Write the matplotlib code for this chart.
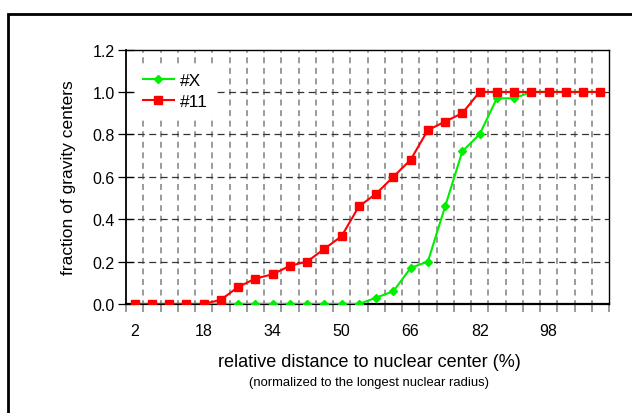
import matplotlib.pyplot as plt
from matplotlib.patches import Rectangle
import numpy as np

plt.rcParams['font.family'] = ['Liberation Sans', 'DejaVu Sans']
plt.rcParams['lines.scale_dashes'] = False

# relative distance (%) - category positions
distance = [2, 6, 10, 14, 18, 22, 26, 30, 34, 38, 42, 46, 50, 54,
            58, 62, 66, 70, 74, 78, 82, 86, 90, 94, 98, 102, 106, 110]
frac_x = [0, 0, 0, 0, 0, 0, 0, 0, 0, 0, 0, 0, 0, 0,
          0.03, 0.06, 0.17, 0.20, 0.46, 0.72, 0.80, 0.97, 0.97, 1.0,
          1.0, 1.0, 1.0, 1.0]
frac_11 = [0, 0, 0, 0, 0, 0.02, 0.08, 0.12, 0.14, 0.18, 0.20, 0.26, 0.32, 0.46,
           0.52, 0.60, 0.68, 0.82, 0.86, 0.90, 1.0, 1.0, 1.0, 1.0,
           1.0, 1.0, 1.0, 1.0]
xtick_labels = [2, 18, 34, 50, 66, 82, 98]

fig = plt.figure(figsize=(6.32, 4.14), dpi=100)
ax = fig.add_axes([126/632, 1 - 305/414, (609 - 126)/632, (305 - 50.5)/414])

ax.plot(distance, frac_x, color='#00ee00', lw=1.5, marker='D', ms=4.2,
        label='#X', zorder=3)
ax.plot(distance, frac_11, color='#ff0000', lw=1.5, marker='s', ms=5.2,
        label='#11', zorder=4)

ax.set_xlim(0, 112)
ax.set_ylim(0, 1.2)

# grid: vertical at category boundaries, horizontal at each 0.2
bounds = np.arange(0, 113, 4)
for b in bounds[1:-1]:
    ax.axvline(b, color='#808080', lw=1.1, ls=(1.5, (4.3, 3.3)), zorder=1)
for yv in [0.2, 0.4, 0.6, 0.8, 1.0]:
    ax.axhline(yv, color='#333333', lw=0.9, ls=(0, (5.0, 3.2)), zorder=1)

ax.set_xticks(bounds)
ax.set_xticklabels([])
ax.tick_params(axis='x', which='major', length=6, direction='out', width=1.1,
               color='#808080')
ax.set_xticks(xtick_labels, minor=True)
ax.set_xticklabels([str(v) for v in xtick_labels], minor=True)
ax.tick_params(axis='x', which='minor', length=0, pad=14, labelsize=11.5)

ax.set_yticks(np.arange(0, 1.21, 0.2))
ax.set_yticklabels(['%.1f' % v for v in np.arange(0, 1.21, 0.2)])
ax.tick_params(axis='y', length=12, direction='inout', width=0.9,
               labelsize=11.5, pad=2)

for s in ax.spines.values():
    s.set_color('black')
    s.set_linewidth(1.0)
ax.spines['bottom'].set_linewidth(1.6)
ax.spines['left'].set_linewidth(1.3)

ax.set_ylabel('fraction of gravity centers', fontsize=12.5, labelpad=12)
fig.text(369/632, 1 - 363/414, 'relative distance to nuclear center (%)',
         ha='center', va='center', fontsize=13)
fig.text(369/632, 1 - 383/414, '(normalized to the longest nuclear radius)',
         ha='center', va='center', fontsize=9.4)

leg = ax.legend(loc='upper left', bbox_to_anchor=(0.005, 0.965), frameon=True,
                fontsize=12.5, handlelength=1.75, handletextpad=0.35,
                borderpad=0.35, labelspacing=0.3)
leg.get_frame().set_edgecolor('white')
leg.get_frame().set_facecolor('white')
leg.get_frame().set_alpha(1)
leg.get_frame().set_boxstyle('square', pad=0.0)

fig.patches.append(Rectangle((8/632, -0.1), 1.0, 1 - 15/414 + 0.1,
                             transform=fig.transFigure, fill=False,
                             edgecolor='black', lw=2))

fig.savefig('out.png', dpi=100)
